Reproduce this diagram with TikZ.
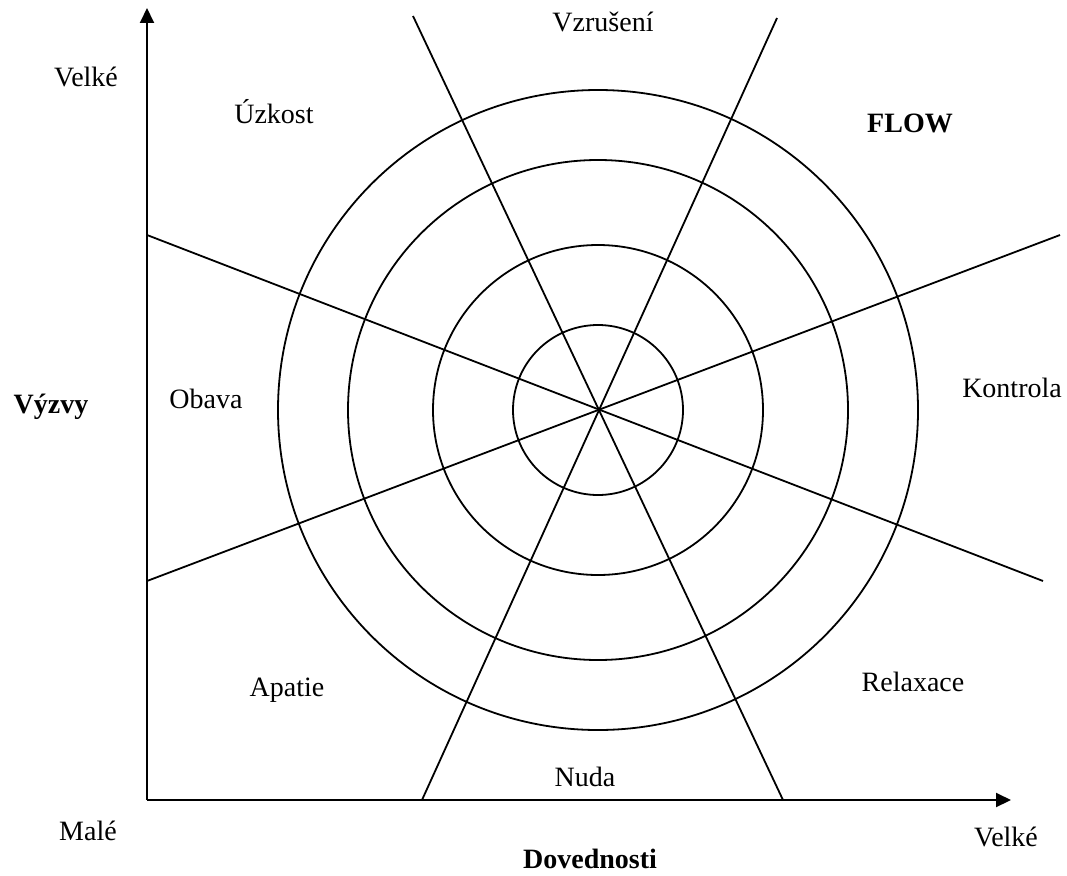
\documentclass[tikz,border=0pt]{standalone}
\usepackage{fontspec}
\setmainfont{Liberation Serif}
\usetikzlibrary{arrows.meta}
\tikzset{lbl/.style={font=\fontsize{28}{34}\selectfont, inner sep=0pt},
         blbl/.style={lbl, font=\fontsize{28}{34}\selectfont\bfseries},
         axis/.style={line width=2pt, -{Triangle[length=15pt,width=14pt]}}}

\begin{document}
\begin{tikzpicture}[x=1pt, y=-1pt, line width=1.8pt]
\useasboundingbox (0,0) rectangle (1067,875);
\coordinate (o) at (147,800);
\coordinate (c) at (598,410);
\draw [axis] (o) -- (147,8) coordinate (ytip);
\draw [axis] (o) -- (1011,800) coordinate (xtip);
\foreach \r in {85,165,250,320}
  \draw (c) circle (\r);
\coordinate (s1a) at (413,16);
\coordinate (s1b) at (783,800);
\coordinate (s2a) at (777,18);
\coordinate (s2b) at (422,800);
\coordinate (f1a) at (147,235);
\coordinate (f1b) at (1043,581);
\coordinate (f2a) at (147,581);
\coordinate (f2b) at (1060,235);
\draw (s1a) -- (s1b);
\draw (s2a) -- (s2b);
\draw (f1a) -- (f1b);
\draw (f2a) -- (f2b);
\node [lbl] (vtop) at (86,77) {Velké};
\node [lbl] (uzk) at (274,112) {Úzkost};
\node [lbl] (vzr) at (603,22) {Vzrušení};
\node [blbl] (flow) at (910,123) {FLOW};
\node [blbl] (vyz) at (51,407) {Výzvy};
\node [lbl] (obv) at (206,399) {Obava};
\node [lbl] (kon) at (1012,388) {Kontrola};
\node [lbl] (apa) at (287,690) {Apatie};
\node [lbl] (rel) at (913,682) {Relaxace};
\node [lbl] (nud) at (585,777) {Nuda};
\node [lbl] (mal) at (88,831) {Malé};
\node [lbl] (vbot) at (1006,837) {Velké};
\node [blbl] (dov) at (590,859) {Dovednosti};
\end{tikzpicture}
\end{document}
